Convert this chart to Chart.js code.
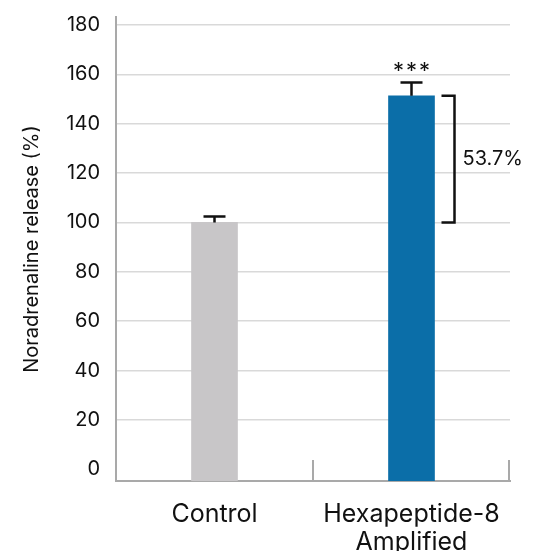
<!DOCTYPE html>
<html>
<head>
<meta charset="utf-8">
<script src="https://cdn.jsdelivr.net/npm/chart.js@4/dist/chart.umd.min.js"></script>
<style>
html, body { margin: 0; padding: 0; background: #fff; }
#contenedor { width: 533px; height: 551px; }
</style>
</head>
<body>
<div id="contenedor"><canvas id="grafica"></canvas></div>
<script>
// datos
const categorias = [['Control'], ['Hexapeptide-8', 'Amplified']];
const liberacion = [100, 151.3];
const errorSup = [2.4, 5.4];
const colores = ['#c8c6c8', '#0b6ea8'];
const ticksY = [0, 20, 40, 60, 80, 100, 120, 140, 160, 180];
const ejeMin = -4.7;
const ejeMax = 183.2;
const tituloY = 'Noradrenaline release (%)';
const asteriscos = ['', '***'];
const diferencia = '53.7%';

const fuente = 'Inter, "Noto Sans", sans-serif';
const gris = '#a9a9a9';

const anotaciones = {
    id: 'anotaciones',
    afterDatasetsDraw(chart) {
        const c = chart.ctx;
        const x = chart.scales.x;
        const y = chart.scales.y;
        const meta = chart.getDatasetMeta(0);
        c.save();
        // marcas entre categorias sobre el eje x
        c.strokeStyle = gris;
        c.lineWidth = 2;
        const bordes = [];
        for (let i = 1; i < categorias.length; i++) {
            bordes.push((x.getPixelForValue(i - 1) + x.getPixelForValue(i)) / 2);
        }
        bordes.push(chart.chartArea.right - 1);
        bordes.forEach(bx => {
            c.beginPath();
            c.moveTo(bx, chart.chartArea.bottom);
            c.lineTo(bx, chart.chartArea.bottom - 21);
            c.stroke();
        });
        // barras de error
        c.strokeStyle = '#111';
        c.lineWidth = 2.5;
        meta.data.forEach((barra, i) => {
            const top = y.getPixelForValue(liberacion[i]);
            const tope = y.getPixelForValue(liberacion[i] + errorSup[i]);
            c.beginPath();
            c.moveTo(barra.x, top);
            c.lineTo(barra.x, tope);
            c.moveTo(barra.x - 11, tope);
            c.lineTo(barra.x + 11, tope);
            c.stroke();
            if (asteriscos[i]) {
                c.fillStyle = '#111';
                c.font = '22px ' + fuente;
                c.letterSpacing = '2px';
                c.textAlign = 'center';
                c.textBaseline = 'middle';
                c.fillText(asteriscos[i], barra.x + 1, tope - 11);
                c.letterSpacing = '0px';
            }
        });
        // corchete de diferencia
        const b = meta.data[1];
        const y1 = y.getPixelForValue(liberacion[1]);
        const y0 = y.getPixelForValue(liberacion[0]);
        const bx = b.x + 43;
        c.beginPath();
        c.moveTo(bx - 13, y1);
        c.lineTo(bx, y1);
        c.lineTo(bx, y0);
        c.lineTo(bx - 13, y0);
        c.stroke();
        c.fillStyle = '#111';
        c.font = '20px ' + fuente;
        c.textAlign = 'left';
        c.textBaseline = 'middle';
        c.fillText(diferencia, bx + 8, (y0 + y1) / 2);
        c.restore();
    }
};

new Chart(document.getElementById('grafica'), {
    type: 'bar',
    data: {
        labels: categorias,
        datasets: [{
            data: liberacion,
            backgroundColor: colores,
            base: ejeMin,
            barThickness: 46
        }]
    },
    options: {
        responsive: true,
        maintainAspectRatio: false,
        animation: false,
        layout: { padding: { top: 17, right: 23, left: 0, bottom: 0 } },
        plugins: {
            legend: { display: false },
            tooltip: { enabled: false }
        },
        scales: {
            x: {
                grid: { display: false, drawTicks: false },
                border: { display: true, color: gris, width: 2 },
                ticks: { color: '#111', font: { family: fuente, size: 25, lineHeight: 1.1 }, padding: 20 },
                afterFit: (s) => { s.height = 70; s.paddingLeft = 0; s.paddingRight = 0; }
            },
            y: {
                min: ejeMin,
                max: ejeMax,
                afterBuildTicks: (s) => { s.ticks = ticksY.map(v => ({ value: v })); },
                grid: {
                    drawTicks: false,
                    color: (ctx) => (ctx.tick && ctx.tick.value === 0) ? 'rgba(0,0,0,0)' : '#d9d9d9',
                    lineWidth: 1.5
                },
                border: { display: true, color: gris, width: 2 },
                ticks: { color: '#111', font: { family: fuente, size: 20 }, padding: 16 },
                title: {
                    display: true,
                    text: tituloY,
                    color: '#111',
                    font: { family: fuente, size: 20 },
                    padding: { top: 20, bottom: 0 }
                },
                afterFit: (s) => { s.width = 116; s.paddingTop = 0; s.paddingBottom = 0; }
            }
        }
    },
    plugins: [anotaciones]
});
</script>
</body>
</html>
